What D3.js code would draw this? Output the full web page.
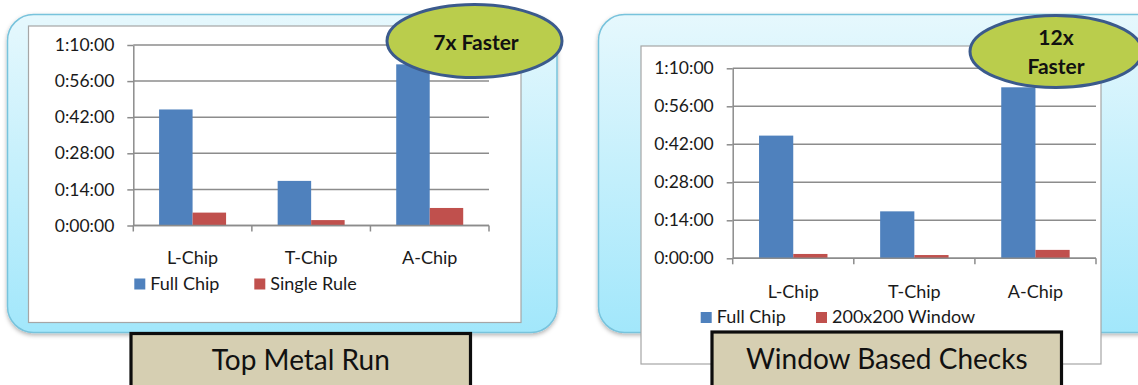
<!DOCTYPE html>
<html>
<head>
<meta charset="utf-8">
<script src="https://cdn.jsdelivr.net/npm/d3@7"></script>
<style>
  html, body { margin: 0; padding: 0; background: #ffffff; }
  svg { display: block; font-family: Lato, "Open Sans", sans-serif; }
</style>
</head>
<body>
<svg id="chart" width="1138" height="385"></svg>
<script>
// ---- data ----
const categories = ["L-Chip", "T-Chip", "A-Chip"];
const tickValues = [0, 14, 28, 42, 56, 70];           // minutes
const tickLabels = ["0:00:00", "0:14:00", "0:28:00", "0:42:00", "0:56:00", "1:10:00"];

const leftSeriesNames = ["Full Chip", "Single Rule"];
const leftFullChip = [45.0, 17.3, 62.5];
const leftSingleRule = [5.0, 2.1, 6.8];
const leftTitle = "Top Metal Run";
const leftBadge = ["7x Faster"];

const rightSeriesNames = ["Full Chip", "200x200 Window"];
const rightFullChip = [45.2, 17.3, 63.0];
const rightWindow = [1.6, 1.2, 3.1];
const rightTitle = "Window Based Checks";
const rightBadge = ["12x", "Faster"];

const seriesColors = ["#4f81bd", "#c0504d"];

// ---- drawing ----
const svg = d3.select("#chart");
const defs = svg.append("defs");
const grad = defs.append("linearGradient").attr("id", "panelGrad")
  .attr("x1", 0).attr("y1", 0).attr("x2", 0).attr("y2", 1);
grad.append("stop").attr("offset", "0%").attr("stop-color", "#e6f8fd");
grad.append("stop").attr("offset", "100%").attr("stop-color", "#a2e7fb");
const sh = defs.append("filter").attr("id", "shadow").attr("x", "-5%").attr("y", "-5%").attr("width", "110%").attr("height", "115%");
sh.append("feDropShadow").attr("dx", 0).attr("dy", 2).attr("stdDeviation", 2)
  .attr("flood-color", "#000").attr("flood-opacity", 0.3);

function drawPanel(cfg) {
  const g = svg.append("g");
  // rounded background panel
  g.append("rect")
    .attr("x", cfg.panel[0]).attr("y", cfg.panel[1])
    .attr("width", cfg.panel[2]).attr("height", cfg.panel[3])
    .attr("rx", 26).attr("ry", 26)
    .attr("fill", "url(#panelGrad)")
    .attr("stroke", "#78c3dc").attr("stroke-width", 1.5)
    .attr("filter", "url(#shadow)");
  // white chart area
  g.append("rect")
    .attr("x", cfg.area[0]).attr("y", cfg.area[1])
    .attr("width", cfg.area[2]).attr("height", cfg.area[3])
    .attr("fill", "#ffffff").attr("stroke", "#a6a6a6").attr("stroke-width", 1.2);

  const [px0, px1, py0, py1] = cfg.plot; // left, right, bottom, top
  const y = d3.scaleLinear().domain([0, 70]).range([py0, py1]);
  const x0 = d3.scaleBand().domain(categories).range([px0, px1])
    .paddingInner(0.435).paddingOuter(0.2175);
  const x1 = d3.scaleBand().domain(cfg.names).range([0, x0.bandwidth()]);

  // gridlines
  g.append("g").selectAll("line").data(tickValues).join("line")
    .attr("x1", px0).attr("x2", px1)
    .attr("y1", d => y(d)).attr("y2", d => y(d))
    .attr("stroke", "#8c8c8c").attr("stroke-width", 1.5);

  // y axis
  const yAxis = d3.axisLeft(y).tickValues(tickValues)
    .tickFormat((d, i) => tickLabels[i]).tickSizeInner(6).tickSizeOuter(0).tickPadding(13);
  const ya = g.append("g").attr("transform", `translate(${px0},0)`).call(yAxis);
  ya.select(".domain").attr("stroke", "#8c8c8c").attr("stroke-width", 1.5);
  ya.selectAll(".tick line").attr("stroke", "#8c8c8c").attr("stroke-width", 1.5);
  ya.selectAll(".tick text").attr("font-family", "Lato").attr("font-size", 17.5).attr("fill", "#1a1a1a");

  // bars
  const series = [cfg.a, cfg.b];
  series.forEach((vals, si) => {
    g.append("g").selectAll("rect").data(vals).join("rect")
      .attr("x", (d, i) => x0(categories[i]) + x1(cfg.names[si]))
      .attr("width", x1.bandwidth())
      .attr("y", d => y(d))
      .attr("height", d => y(0) - y(d))
      .attr("fill", seriesColors[si]);
  });

  // x axis baseline and boundary ticks
  const step = x0.step();
  g.append("line").attr("x1", px0).attr("x2", px1).attr("y1", py0).attr("y2", py0)
    .attr("stroke", "#8c8c8c").attr("stroke-width", 1.5);
  g.append("g").selectAll("line").data(d3.range(categories.length + 1)).join("line")
    .attr("x1", i => px0 + i * step).attr("x2", i => px0 + i * step)
    .attr("y1", py0).attr("y2", py0 + 6)
    .attr("stroke", "#8c8c8c").attr("stroke-width", 1.5);

  // category labels
  const xAxis = d3.axisBottom(x0).tickSize(0).tickPadding(cfg.catPad);
  const xa = g.append("g").attr("transform", `translate(0,${py0})`).call(xAxis);
  xa.select(".domain").remove();
  xa.selectAll(".tick text").attr("font-family", "Lato").attr("font-size", 18).attr("fill", "#1a1a1a");

  // legend
  const lg = g.append("g");
  cfg.names.forEach((n, i) => {
    const lx = cfg.legend[i];
    lg.append("rect").attr("x", lx).attr("y", cfg.legendY - 11)
      .attr("width", 11).attr("height", 11).attr("fill", seriesColors[i]);
    lg.append("text").attr("x", lx + 16).attr("y", cfg.legendY)
      .attr("font-family", "Lato").attr("font-size", 18).attr("fill", "#1a1a1a")
      .text(n);
  });

  // title box
  g.append("rect")
    .attr("x", cfg.title[0]).attr("y", cfg.title[1])
    .attr("width", cfg.title[2]).attr("height", cfg.title[3])
    .attr("fill", "#d6cfb2").attr("stroke", "#0d0d0d").attr("stroke-width", 3.2);
  g.append("text")
    .attr("x", cfg.title[0] + cfg.title[2] / 2).attr("y", cfg.titleBase)
    .attr("text-anchor", "middle")
    .attr("font-family", "Lato").attr("font-size", 28).attr("fill", "#111")
    .text(cfg.titleText);

  // badge ellipse
  g.append("ellipse")
    .attr("cx", cfg.badge[0]).attr("cy", cfg.badge[1])
    .attr("rx", cfg.badge[2]).attr("ry", cfg.badge[3])
    .attr("fill", "#bacd4c").attr("stroke", "#3b5a8c").attr("stroke-width", 3);
  cfg.badgeText.forEach((t, i) => {
    g.append("text")
      .attr("x", cfg.badgeTextX).attr("y", cfg.badgeTextY[i])
      .attr("text-anchor", "middle")
      .attr("font-family", "Lato").attr("font-weight", "bold").attr("font-size", 21)
      .attr("fill", "#111")
      .text(t);
  });
}

drawPanel({
  panel: [7.5, 14.5, 549.5, 318],
  area: [28.5, 26, 492.5, 296.5],
  plot: [133.3, 489, 225.5, 45],
  names: leftSeriesNames, a: leftFullChip, b: leftSingleRule,
  catPad: 26,
  legend: [134.3, 254.3], legendY: 289.5,
  title: [131, 333.5, 339.5, 60], titleBase: 369.5, titleText: leftTitle,
  badge: [474.5, 41, 87.5, 36.5], badgeText: leftBadge, badgeTextX: 476, badgeTextY: [49.5]
});

drawPanel({
  panel: [598.5, 14.5, 570, 318],
  area: [641, 46, 460, 318],
  plot: [732.7, 1096, 258.3, 68.3],
  names: rightSeriesNames, a: rightFullChip, b: rightWindow,
  catPad: 27,
  legend: [700.7, 816], legendY: 323,
  title: [712, 332, 349.5, 60], titleBase: 368.5, titleText: rightTitle,
  badge: [1056, 51.5, 86, 36], badgeText: rightBadge, badgeTextX: 1056, badgeTextY: [45, 74]
});
</script>
</body>
</html>
